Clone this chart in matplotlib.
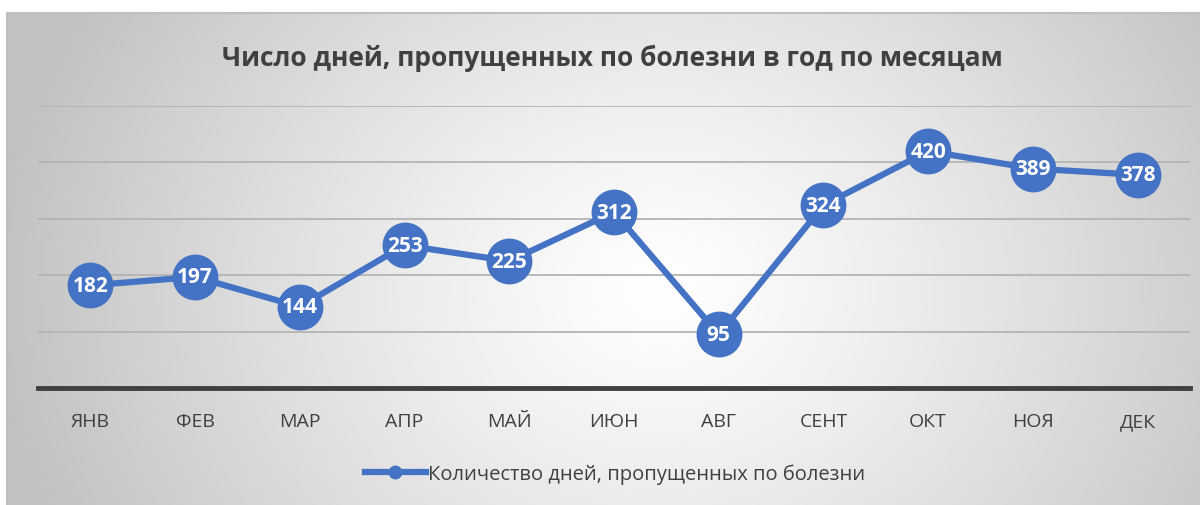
import numpy as np
import matplotlib
matplotlib.use("Agg")
import matplotlib.pyplot as plt

months = ["ЯНВ", "ФЕВ", "МАР", "АПР", "МАЙ", "ИЮН", "АВГ", "СЕНТ", "ОКТ", "НОЯ", "ДЕК"]
days = [182, 197, 144, 253, 225, 312, 95, 324, 420, 389, 378]
title = "Число дней, пропущенных по болезни в год по месяцам"
series_name = "Количество дней, пропущенных по болезни"

blue = "#4472C4"
txt = "#404040"
plt.rcParams['font.family'] = ['Open Sans', 'DejaVu Sans']

W, H = 1200, 506
fig = plt.figure(figsize=(12, 5.06), dpi=100)

# background: white strip + radial gray gradient chart area
bg = fig.add_axes([0, 0, 1, 1])
yy, xx = np.mgrid[0:H, 0:W]
d = np.sqrt(((xx - 660) / 620.0) ** 2 + ((yy - 290) / 520.0) ** 2)
g = 1 - 0.22 * np.clip(d, 0, 1.2) ** 1.2
g = np.clip(g, 0.76, 1)
img = np.dstack((g, g, g))
img[:14, :] = 1
img[:, :7] = 1
bg.imshow(img, extent=(0, W, H, 0), aspect='auto')
bg.plot([7, 7, W], [H, 14, 14], color="#bfbfbf", lw=1.5)
bg.set_xlim(0, W)
bg.set_ylim(H, 0)
bg.axis('off')

ax = fig.add_axes([38 / W, (H - 389) / H, (1190 - 38) / W, (389 - 107) / H])
ax.patch.set_alpha(0)
x = np.arange(len(months))
ax.set_xlim(-0.5, len(months) - 0.5)
ax.set_ylim(0, 500)
ax.set_yticks([100, 200, 300, 400, 500])
for v in [100, 200, 300, 400, 500]:
    ax.axhline(v, color="#b4b4b4", lw=1.3, zorder=1)
ax.axhline(0, color="#404040", lw=3.5, zorder=2, clip_on=False)
for s in ax.spines.values():
    s.set_visible(False)
ax.tick_params(axis='y', left=False, labelleft=False)
ax.tick_params(axis='x', bottom=False, pad=14)
ax.set_xticks(x)
ax.set_xticklabels(months, fontsize=14, color=txt)

ax.plot(x, days, color=blue, lw=4.5, marker='o', ms=32, mfc=blue, mec=blue,
        zorder=3, clip_on=False, label=series_name)
for xi, v in zip(x, days):
    ax.text(xi, v, str(v), ha='center', va='center', color='white',
            fontsize=15, fontweight='bold', zorder=4)

fig.text(612 / W, 1 - 58 / H, title, ha='center', va='center',
         fontsize=19, fontweight='bold', color=txt)

leg = fig.legend(handles=[plt.Line2D([], [], color=blue, lw=4.5, marker='o', ms=9)],
                 labels=[series_name], loc='center', bbox_to_anchor=(615 / W, 1 - 475 / H),
                 frameon=False, fontsize=14.5, handlelength=3.0, handletextpad=0.1)
for t in leg.get_texts():
    t.set_color(txt)

fig.savefig("out.png", dpi=100)
